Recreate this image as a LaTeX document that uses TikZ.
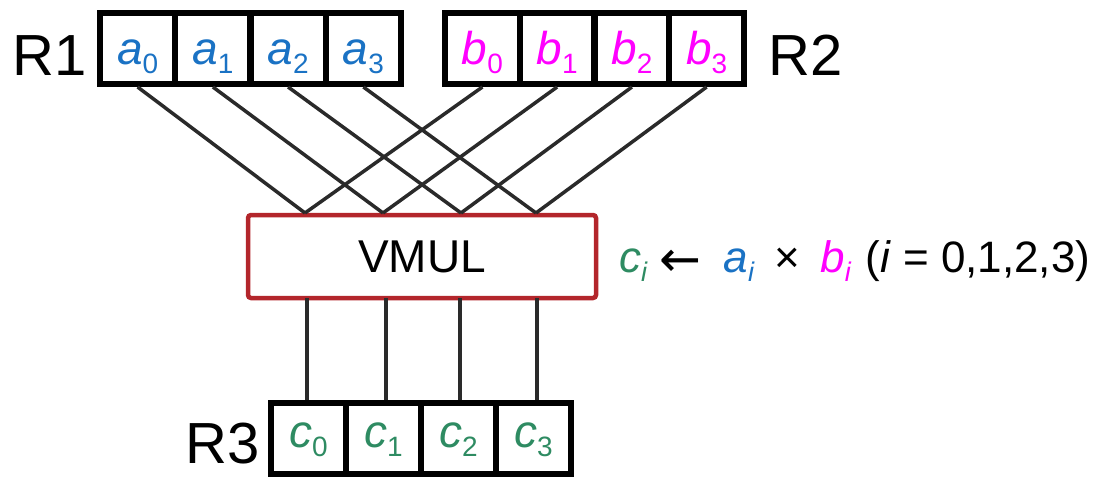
\documentclass[tikz,border=0pt]{standalone}
\usepackage{fontspec}
\setmainfont{Liberation Sans}
\newfontfamily\arrowfont{DejaVu Sans}
\usetikzlibrary{calc}

\definecolor{ablue}{HTML}{1A72C4}
\definecolor{bmag}{HTML}{FF00FF}
\definecolor{cgreen}{HTML}{2E8B62}
\definecolor{unitred}{HTML}{B3262B}
\definecolor{wiregray}{HTML}{2A2A2A}

% element with an upright numeric subscript, e.g. a_0
\newcommand\elem[3]{{\color{#1}\textit{#2}\raisebox{-0.2em}{\fontsize{28}{28}\selectfont #3}}}
% element with an italic index subscript, e.g. a_i
\newcommand\ielem[2]{{\color{#1}\textit{#2}\raisebox{-0.22em}{\fontsize{27}{27}\selectfont\textit{i}}}}

\tikzset{
  regcell/.style={draw=black, line width=6pt, minimum width=75pt, minimum height=71pt,
    inner sep=0pt, text depth=0pt, font=\fontsize{46}{46}\selectfont},
  topcell/.style={regcell, text height=31pt},
  botcell/.style={regcell, text height=17pt},
  reglabel/.style={anchor=base west, inner sep=0pt, font=\fontsize{58}{58}\selectfont},
  unit/.style={draw=unitred, line width=4.5pt, rounded corners=3pt, minimum width=348pt,
    minimum height=83pt, inner sep=0pt, font=\fontsize{46}{46}\selectfont},
  wire/.style={draw=wiregray, line width=3.5pt},
}

\begin{document}
\begin{tikzpicture}[x=1pt, y=-1pt]
\useasboundingbox (0,0) rectangle (1101,477);

% register R1
\node[topcell] (a0) at (137.6,48.5) {\elem{ablue}{a}{0}};
\node[topcell] (a1) at (212.9,48.5) {\elem{ablue}{a}{1}};
\node[topcell] (a2) at (288.1,48.5) {\elem{ablue}{a}{2}};
\node[topcell] (a3) at (363.4,48.5) {\elem{ablue}{a}{3}};
\node[reglabel] (r1) at (12,75) {R1};

% register R2
\node[topcell] (b0) at (482.4,48.5) {\elem{bmag}{b}{0}};
\node[topcell] (b1) at (557.1,48.5) {\elem{bmag}{b}{1}};
\node[topcell] (b2) at (631.9,48.5) {\elem{bmag}{b}{2}};
\node[topcell] (b3) at (706.6,48.5) {\elem{bmag}{b}{3}};
\node[reglabel] (r2) at (768,75) {R2};

% vector multiply unit
\node[unit] (vmul) at (422,256.5) {VMUL};

% input points on top of the unit
\coordinate (in0) at (305,213);
\coordinate (in1) at (383,213);
\coordinate (in2) at (461,213);
\coordinate (in3) at (536,213);

% output points under the unit
\coordinate (out0) at (307,298);
\coordinate (out1) at (386,298);
\coordinate (out2) at (460,298);
\coordinate (out3) at (537,298);

% register R3
\node[botcell] (c0) at (308.5,438.5) {\elem{cgreen}{c}{0}};
\node[botcell] (c1) at (383.5,438.5) {\elem{cgreen}{c}{1}};
\node[botcell] (c2) at (458.5,438.5) {\elem{cgreen}{c}{2}};
\node[botcell] (c3) at (533.5,438.5) {\elem{cgreen}{c}{3}};
\node[reglabel] (r3) at (185,463) {R3};

% crossing wires from the source registers into the unit, and result wires
\foreach \i in {0,1,2,3} {
  \draw[wire] (a\i.south) -- (in\i);
  \draw[wire] (b\i.south) -- (in\i);
  \draw[wire] (out\i) -- (out\i |- c\i.north);
}

% operation
\node[anchor=base west, inner sep=0pt, font=\fontsize{44}{44}\selectfont] (op) at (619,272)
  {\ielem{cgreen}{c}\hspace{12pt}{\arrowfont\fontsize{50}{50}\selectfont\raisebox{-4pt}{←}}\hspace{22pt}%
   \ielem{ablue}{a}\hspace{20pt}×\hspace{20pt}\ielem{bmag}{b}\hspace{14pt}(\textit{i} = 0,1,2,3)};
\end{tikzpicture}
\end{document}
